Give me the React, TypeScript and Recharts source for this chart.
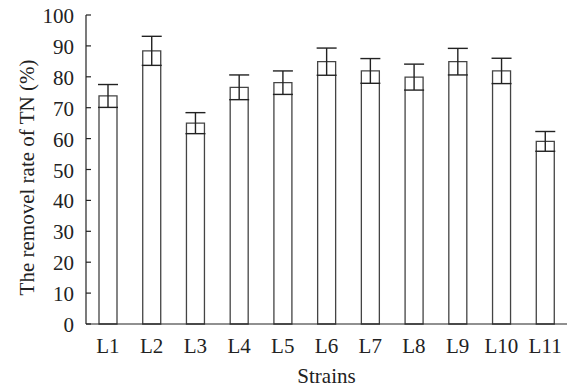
import { BarChart, Bar, XAxis, YAxis, ErrorBar, Label } from 'recharts';

const strains = ['L1', 'L2', 'L3', 'L4', 'L5', 'L6', 'L7', 'L8', 'L9', 'L10', 'L11'];
const removalRate = [73.8, 88.4, 65.0, 76.6, 78.1, 84.9, 81.9, 79.9, 84.9, 81.9, 59.1];
const errorValues = [3.7, 4.7, 3.4, 4.0, 3.8, 4.4, 4.0, 4.2, 4.3, 4.1, 3.2];
const yTicks = [0, 10, 20, 30, 40, 50, 60, 70, 80, 90, 100];

const data = strains.map((name, i) => ({
  name,
  value: removalRate[i],
  err: errorValues[i],
}));

const FONT = '"Liberation Serif", "Times New Roman", serif';
const INK = '#222';
const FS = 21;

// left axis with ticks pointing into the plot
function YTick(props: any) {
  const { x, y, payload } = props;
  const axisX = x + 12;
  return (
    <g>
      <line x1={axisX} y1={y} x2={axisX + 5} y2={y} stroke={INK} strokeWidth={1.2} />
      <text x={x} y={y} dy={8} textAnchor="end" fill={INK} fontSize={FS} fontFamily={FONT}>
        {payload.value}
      </text>
    </g>
  );
}

function YTitle(props: any) {
  const { viewBox } = props;
  const cx = viewBox.x + 34;
  const cy = viewBox.y + viewBox.height / 2 + 8;
  return (
    <text
      x={cx}
      y={cy}
      transform={`rotate(-90, ${cx}, ${cy})`}
      textAnchor="middle"
      fill={INK}
      fontSize={FS}
      fontFamily={FONT}
    >
      The removel rate of TN (%)
    </text>
  );
}

export default function App() {
  return (
    <div style={{ width: 569, height: 390, background: '#fff' }}>
      <style>{'body{margin:0}'}</style>
      <BarChart
        width={569}
        height={390}
        data={data}
        margin={{ top: 15, right: 2, left: 0, bottom: 0 }}
      >
        <XAxis
          dataKey="name"
          height={66}
          tickLine={false}
          tickSize={6}
          tickMargin={8}
          axisLine={{ stroke: INK, strokeWidth: 1.2 }}
          tick={{ fill: INK, fontSize: FS, fontFamily: FONT }}
          interval={0}
          label={{
            value: 'Strains',
            position: 'insideBottom',
            offset: 7,
            fill: INK,
            fontSize: FS,
            fontFamily: FONT,
          }}
        />
        <YAxis
          width={86}
          domain={[0, 100]}
          ticks={yTicks}
          interval={0}
          tickLine={false}
          tickSize={5}
          tickMargin={7}
          axisLine={{ stroke: INK, strokeWidth: 1.2 }}
          tick={<YTick />}
        >
          <Label content={<YTitle />} />
        </YAxis>
        <Bar
          dataKey="value"
          barSize={18}
          fill="#fff"
          stroke="#444"
          strokeWidth={1.3}
          isAnimationActive={false}
        >
          <ErrorBar dataKey="err" width={10} stroke={INK} strokeWidth={1.4} />
        </Bar>
      </BarChart>
    </div>
  );
}
